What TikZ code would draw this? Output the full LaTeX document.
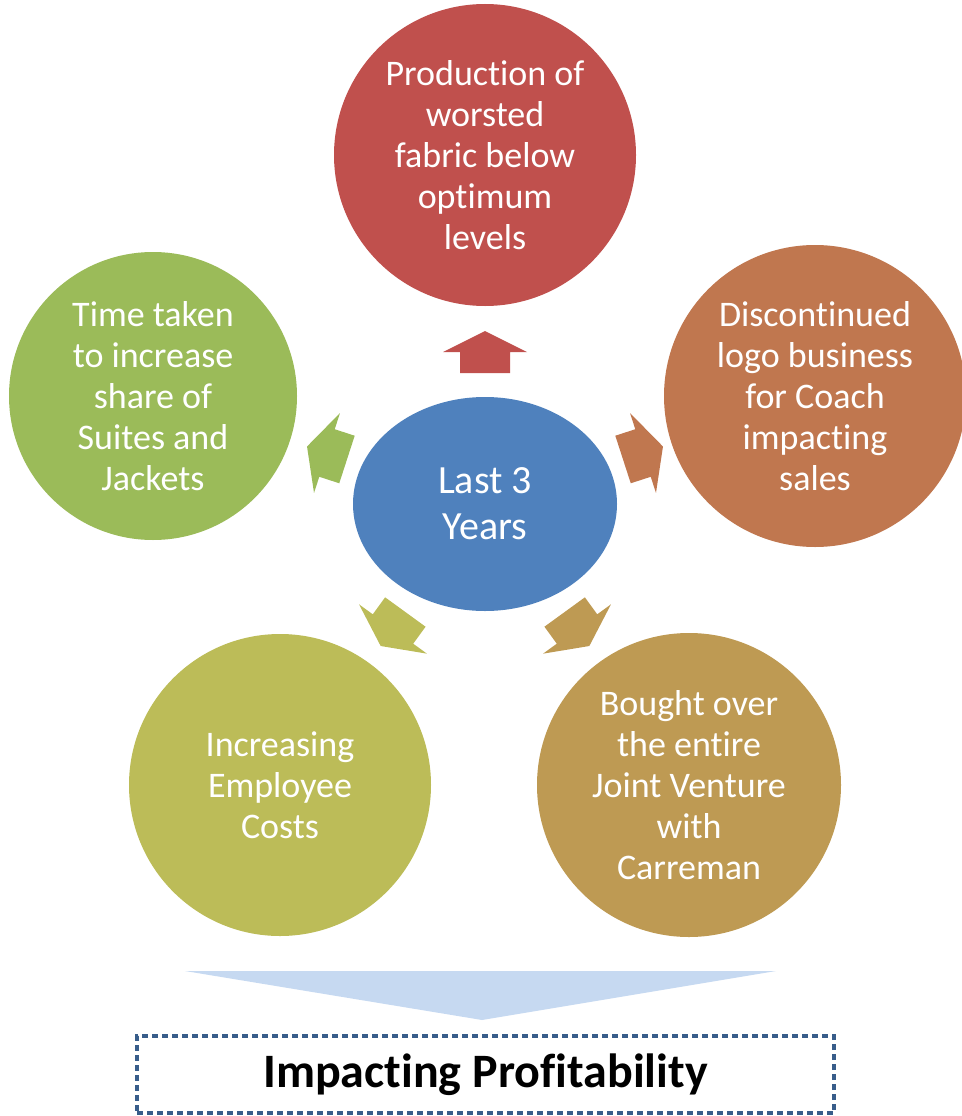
\documentclass[tikz,border=0pt]{standalone}
\usepackage{fontspec}
\setmainfont[RawFeature={-liga;-clig;-dlig;-calt}]{Carlito}
\usetikzlibrary{shapes.geometric}
\definecolor{cred}{HTML}{C0504D}
\definecolor{cgreen}{HTML}{9BBB59}
\definecolor{corange}{HTML}{C0774F}
\definecolor{colive}{HTML}{BCBC58}
\definecolor{ctan}{HTML}{BE9A53}
\definecolor{cblue}{HTML}{4F81BD}
\definecolor{ctri}{HTML}{C6D9F1}
\definecolor{cbox}{HTML}{385D8A}
\begin{document}
\begin{tikzpicture}[x=1pt,y=-1pt,
  bubble/.style={circle, inner sep=0pt, text=white, align=center,
    font=\fontsize{36}{41}\selectfont},
  blockarrow/.pic={\fill (-21,-25) -- (0,-25) -- (0,-42) -- (21,0) -- (0,42) -- (0,25) -- (-21,25) -- cycle;}
]
\useasboundingbox (0,0) rectangle (961,1116);

\node[bubble, fill=cred, minimum size=302pt] (prod) at (485,155)
  {Production of\\worsted\\fabric below\\optimum\\levels};
\node[bubble, fill=cgreen, minimum size=288pt] (time) at (153,396)
  {Time taken\\to increase\\share of\\Suites and\\Jackets};
\node[bubble, fill=corange, minimum size=302pt] (logo) at (815,396)
  {Discontinued\\logo business\\for Coach\\impacting\\sales};
\node[bubble, fill=colive, minimum size=302pt] (emp) at (280,785)
  {Increasing\\Employee\\Costs};
\node[bubble, fill=ctan, minimum size=304pt] (jv) at (689,785)
  {Bought over\\the entire\\Joint Venture\\with\\Carreman};

\node[ellipse, fill=cblue, inner sep=0pt, minimum width=264pt, minimum height=214pt,
  text=white, align=center, font=\fontsize{40}{46}\selectfont] (c) at (485,504)
  {Last 3\\Years};

\pic[fill=cred, rotate=90] at (485,352) {blockarrow};
\pic[fill=cgreen, rotate=162] at (327,453) {blockarrow};
\pic[fill=corange, rotate=18] at (643,453) {blockarrow};
\pic[fill=colive, rotate=234] at (393,629) {blockarrow};
\pic[fill=ctan, rotate=306] at (577,629) {blockarrow};

\fill[ctri] (185,971) -- (776,971) -- (482,1020) -- cycle;

\node[draw=cbox, line width=4pt, dash pattern=on 6pt off 4pt,
  minimum width=697pt, minimum height=77pt, inner sep=0pt,
  font=\fontsize{48}{54}\selectfont\bfseries] (box) at (485.5,1074.5)
  {Impacting Profitability};
\end{tikzpicture}
\end{document}
